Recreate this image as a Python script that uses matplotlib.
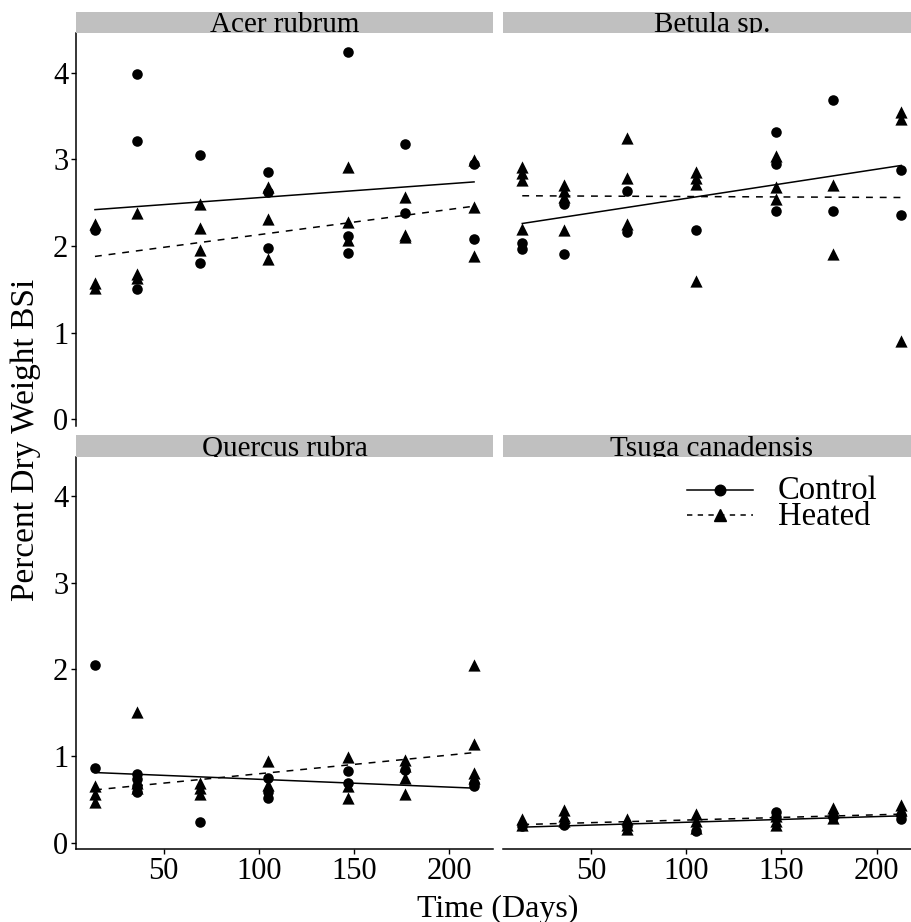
import matplotlib
matplotlib.use("Agg")
import matplotlib.pyplot as plt
from matplotlib.lines import Line2D

plt.rcParams['font.family'] = ['Liberation Serif', 'DejaVu Serif']

W, H = 912, 922
DPI = 100

species = ["Acer rubrum", "Betula sp.", "Quercus rubra", "Tsuga canadensis"]
treatments = ["Control", "Heated"]
x_ticks = [50, 100, 150, 200]
y_ticks = [0, 1, 2, 3, 4]
fit_days = [14, 213]

# ---- Acer rubrum ----
acer_ctrl_x = [14, 36, 36, 36, 69, 69, 105, 105, 105, 147, 147, 147, 177, 177, 213, 213]
acer_ctrl_y = [2.19, 3.99, 3.21, 1.50, 3.05, 1.80, 2.85, 2.62, 1.98, 4.24, 2.12, 1.92, 3.18, 2.38, 2.95, 2.08]
acer_heat_x = [14, 14, 14, 36, 36, 36, 69, 69, 69, 105, 105, 105, 147, 147, 147, 177, 177, 177, 213, 213, 213]
acer_heat_y = [2.25, 1.57, 1.51, 2.38, 1.68, 1.63, 2.48, 2.21, 1.95, 2.68, 2.31, 1.85, 2.91, 2.28, 2.07, 2.57, 2.13, 2.10, 2.99, 2.45, 1.88]
acer_fit_ctrl = [2.42, 2.74]
acer_fit_heat = [1.88, 2.46]

# ---- Betula sp. ----
betula_ctrl_x = [14, 14, 36, 36, 69, 69, 105, 147, 147, 147, 177, 177, 213, 213]
betula_ctrl_y = [2.04, 1.96, 2.48, 1.91, 2.63, 2.16, 2.18, 3.32, 2.95, 2.41, 3.68, 2.40, 2.88, 2.36]
betula_heat_x = [14, 14, 14, 14, 36, 36, 36, 36, 69, 69, 69, 105, 105, 105, 105, 147, 147, 147, 177, 177, 213, 213, 213]
betula_heat_y = [2.91, 2.84, 2.76, 2.20, 2.70, 2.63, 2.57, 2.18, 3.25, 2.79, 2.25, 2.86, 2.78, 2.72, 1.60, 3.04, 2.68, 2.54, 2.71, 1.91, 3.55, 3.47, 0.90]
betula_fit_ctrl = [2.26, 2.93]
betula_fit_heat = [2.58, 2.56]

# ---- Quercus rubra ----
quercus_ctrl_x = [14, 14, 36, 36, 36, 36, 69, 105, 105, 105, 147, 147, 177, 213, 213]
quercus_ctrl_y = [2.05, 0.865, 0.79, 0.73, 0.65, 0.58, 0.24, 0.75, 0.58, 0.52, 0.83, 0.69, 0.84, 0.69, 0.65]
quercus_heat_x = [14, 14, 14, 36, 36, 36, 69, 69, 69, 105, 105, 147, 147, 147, 177, 177, 177, 177, 213, 213, 213, 213]
quercus_heat_y = [0.65, 0.565, 0.47, 1.51, 0.69, 0.63, 0.69, 0.63, 0.565, 0.94, 0.67, 0.99, 0.65, 0.52, 0.96, 0.88, 0.75, 0.565, 2.05, 1.14, 0.80, 0.75]
quercus_fit_ctrl = [0.81, 0.63]
quercus_fit_heat = [0.61, 1.04]

# ---- Tsuga canadensis ----
tsuga_ctrl_x = [14, 36, 69, 105, 147, 147, 177, 213, 213]
tsuga_ctrl_y = [0.19, 0.21, 0.19, 0.14, 0.36, 0.30, 0.30, 0.27, 0.32]
tsuga_heat_x = [14, 14, 36, 36, 36, 69, 69, 69, 105, 105, 105, 147, 147, 147, 177, 177, 177, 213, 213]
tsuga_heat_y = [0.27, 0.20, 0.38, 0.31, 0.25, 0.27, 0.21, 0.16, 0.33, 0.25, 0.17, 0.31, 0.25, 0.21, 0.40, 0.35, 0.29, 0.44, 0.38]
tsuga_fit_ctrl = [0.18, 0.31]
tsuga_fit_heat = [0.21, 0.33]

panels = [
    (acer_ctrl_x, acer_ctrl_y, acer_heat_x, acer_heat_y, acer_fit_ctrl, acer_fit_heat),
    (betula_ctrl_x, betula_ctrl_y, betula_heat_x, betula_heat_y, betula_fit_ctrl, betula_fit_heat),
    (quercus_ctrl_x, quercus_ctrl_y, quercus_heat_x, quercus_heat_y, quercus_fit_ctrl, quercus_fit_heat),
    (tsuga_ctrl_x, tsuga_ctrl_y, tsuga_heat_x, tsuga_heat_y, tsuga_fit_ctrl, tsuga_fit_heat),
]

fig = plt.figure(figsize=(W / DPI, H / DPI), dpi=DPI)


def rect(x0, ytop, w, h):
    return [x0 / W, 1 - (ytop + h) / H, w / W, h / H]


def fx(px):
    return px / W


def fy(py):
    return 1 - py / H


panel_w = 417.0
panel_h = 392.7
lefts = [76.0, 503.3]
tops = [33.3, 456.7]
strip_h = 21.6

XLIM = (4.05, 222.95)
YLIM = (-0.077, 4.455)

TICK_FS = 22
STRIP_FS = 21
DASH = (0, (4.5, 4.5))
MS_C = 7.6
MS_T = 8.8

for i, (cx, cy, hx, hy, fc, fh) in enumerate(panels):
    r, c = divmod(i, 2)
    ax = fig.add_axes(rect(lefts[c], tops[r], panel_w, panel_h))
    ax.set_xlim(*XLIM)
    ax.set_ylim(*YLIM)
    ax.scatter(cx, cy, marker='o', s=MS_C ** 2, color='black', linewidths=0, zorder=2)
    ax.scatter(hx, hy, marker='^', s=MS_T ** 2, color='black', linewidths=0, zorder=2)
    ax.plot(fit_days, fc, color='black', lw=1.1, ls='-', zorder=3)
    ax.plot(fit_days, fh, color='black', lw=1.1, ls=DASH, zorder=3)
    for s in ['top', 'right']:
        ax.spines[s].set_visible(False)
    ax.spines['left'].set_visible(c == 0)
    ax.spines['bottom'].set_visible(r == 1)
    for s in ['left', 'bottom']:
        ax.spines[s].set_linewidth(1.1)
    ax.set_xticks(x_ticks)
    ax.set_yticks(y_ticks)
    ax.tick_params(axis='both', length=3.5, width=1.0, labelsize=TICK_FS, pad=2, color='black')
    if c != 0:
        ax.tick_params(axis='y', left=False, labelleft=False)
    if r != 1:
        ax.tick_params(axis='x', bottom=False, labelbottom=False)
    ax.patch.set_alpha(0)

    # facet strip
    sax = fig.add_axes(rect(lefts[c], tops[r] - strip_h, panel_w, strip_h))
    sax.set_facecolor('#C0C0C0')
    sax.set_xticks([])
    sax.set_yticks([])
    for s in sax.spines.values():
        s.set_visible(False)
    sax.text(0.5, 0.04, species[i], transform=sax.transAxes, ha='center', va='baseline',
             fontsize=STRIP_FS, clip_on=True)

# legend keys (drawn in figure coordinates)
key_x0, key_x1 = 686.7, 752.7
key_rows = [490.0, 515.0]
fig.add_artist(Line2D([fx(key_x0), fx(key_x1)], [fy(key_rows[0])] * 2, color='black', lw=1.1, ls='-',
                      transform=fig.transFigure))
fig.add_artist(Line2D([fx((key_x0 + key_x1) / 2)], [fy(key_rows[0])], color='black', marker='o',
                      markersize=MS_C, ls='none', transform=fig.transFigure))
fig.add_artist(Line2D([fx(key_x0), fx(key_x1)], [fy(key_rows[1])] * 2, color='black', lw=1.1,
                      ls=(0, (3.5, 3.5)), transform=fig.transFigure))
fig.add_artist(Line2D([fx((key_x0 + key_x1) / 2)], [fy(key_rows[1])], color='black', marker='^',
                      markersize=MS_T, ls='none', transform=fig.transFigure))
fig.text(fx(778), fy(525), "\n".join(treatments), ha='left', va='baseline', fontsize=23.5,
         linespacing=0.79)

fig.text(fx(26), fy(440), 'Percent Dry Weight BSi', rotation=90, ha='center', va='center', fontsize=24)
fig.text(fx(497.5), fy(916.5), 'Time (Days)', ha='center', va='baseline', fontsize=23)

fig.savefig('out.png', dpi=DPI)
